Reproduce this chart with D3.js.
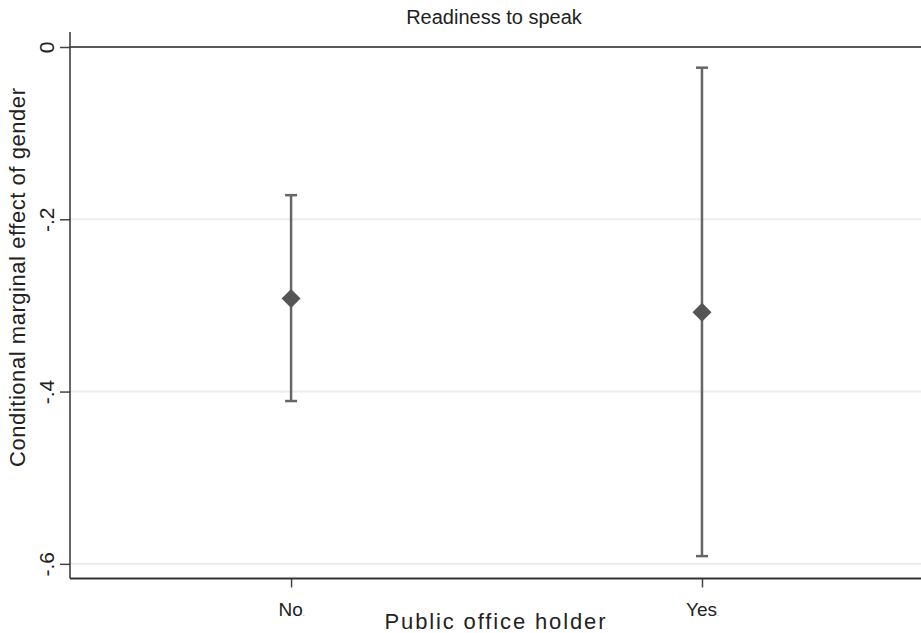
<!DOCTYPE html>
<html>
<head>
<meta charset="utf-8">
<script src="https://cdn.jsdelivr.net/npm/d3@7"></script>
<style>
  body { margin: 0; background: #fff; }
  svg { display: block; font-family: "Liberation Sans", Arial, sans-serif; }
</style>
</head>
<body>
<svg id="chart" width="921" height="633"></svg>
<script>
// Marginal effect estimates with 95% confidence intervals
const categories = ["No", "Yes"];
const estimates = [-0.292, -0.308];
const ciLower = [-0.411, -0.591];
const ciUpper = [-0.172, -0.024];
const yTicks = [0, -0.2, -0.4, -0.6];
const yTickLabels = ["0", "-.2", "-.4", "-.6"];

const svg = d3.select("#chart");
const plotLeft = 70, plotRight = 921, plotTop = 32, plotBottom = 578.5;

const x = d3.scaleLinear().domain([-0.538, 1.533]).range([plotLeft, plotRight]);
const y = d3.scaleLinear().domain([-0.617, 0.0174]).range([plotBottom, plotTop]);

// Gridlines
svg.append("g").selectAll("line")
  .data(yTicks.filter(d => d !== 0))
  .join("line")
  .attr("x1", plotLeft).attr("x2", plotRight)
  .attr("y1", d => y(d)).attr("y2", d => y(d))
  .attr("stroke", "#ececec").attr("stroke-width", 2);

// Reference line at zero
svg.append("line")
  .attr("x1", plotLeft).attr("x2", plotRight)
  .attr("y1", y(0)).attr("y2", y(0))
  .attr("stroke", "#5a5a5a").attr("stroke-width", 2);

// Y axis
const yAxis = d3.axisLeft(y).tickValues(yTicks)
  .tickFormat((d, i) => yTickLabels[i]).tickSize(10).tickPadding(0);
const gy = svg.append("g").attr("transform", `translate(${plotLeft},0)`).call(yAxis);
gy.select(".domain").remove();
gy.selectAll(".tick line").attr("stroke", "#444").attr("stroke-width", 1.5);
gy.selectAll(".tick text").remove();
gy.selectAll(".tick").append("text")
  .attr("transform", "translate(-24,0) rotate(-90)")
  .attr("text-anchor", "middle")
  .attr("dy", "0.36em")
  .attr("fill", "#222")
  .style("font-size", "21px")
  .text((d, i) => yTickLabels[i]);
svg.append("line")
  .attr("x1", plotLeft).attr("x2", plotLeft).attr("y1", plotTop).attr("y2", plotBottom)
  .attr("stroke", "#333").attr("stroke-width", 1.5);

// X axis
const xAxis = d3.axisBottom(x).tickValues([0, 1])
  .tickFormat((d, i) => categories[i]).tickSize(9).tickPadding(0);
const gx = svg.append("g").attr("transform", `translate(0,${plotBottom})`).call(xAxis);
gx.select(".domain").remove();
gx.selectAll(".tick line").attr("stroke", "#444").attr("stroke-width", 1.5);
gx.selectAll(".tick text").remove();
gx.selectAll(".tick").append("text")
  .attr("y", 37)
  .attr("text-anchor", "middle")
  .attr("fill", "#222")
  .style("font-size", "19px")
  .text((d, i) => categories[i])
  .append("tspan").style("font-size", "7px").attr("fill", "#666").text(".");
svg.append("line")
  .attr("x1", plotLeft).attr("x2", plotRight).attr("y1", plotBottom).attr("y2", plotBottom)
  .attr("stroke", "#333").attr("stroke-width", 2);

// Confidence intervals
const ci = svg.append("g").attr("stroke", "#666").attr("stroke-width", 2.5);
categories.forEach((c, i) => {
  const cx = x(i);
  ci.append("line").attr("x1", cx).attr("x2", cx)
    .attr("y1", y(ciUpper[i])).attr("y2", y(ciLower[i]));
  ci.append("line").attr("x1", cx - 6).attr("x2", cx + 6)
    .attr("y1", y(ciUpper[i])).attr("y2", y(ciUpper[i]));
  ci.append("line").attr("x1", cx - 6).attr("x2", cx + 6)
    .attr("y1", y(ciLower[i])).attr("y2", y(ciLower[i]));
});

// Point estimates as diamonds
svg.append("g").selectAll("path")
  .data(estimates)
  .join("path")
  .attr("d", "M0,-9.5L9.5,0L0,9.5L-9.5,0Z")
  .attr("transform", (d, i) => `translate(${x(i)},${y(d)})`)
  .attr("fill", "#555");

// Titles
svg.append("text")
  .attr("x", 494).attr("y", 24)
  .attr("text-anchor", "middle").attr("fill", "#222")
  .style("font-size", "20px")
  .text("Readiness to speak");

svg.append("text")
  .attr("x", 495).attr("y", 629)
  .attr("text-anchor", "middle").attr("fill", "#222")
  .attr("textLength", 221).attr("lengthAdjust", "spacing")
  .style("font-size", "22px")
  .text("Public office holder");

svg.append("text")
  .attr("transform", "translate(25,277.5) rotate(-90)")
  .attr("text-anchor", "middle").attr("fill", "#222")
  .attr("textLength", 379).attr("lengthAdjust", "spacing")
  .style("font-size", "22px")
  .text("Conditional marginal effect of gender");
</script>
</body>
</html>
